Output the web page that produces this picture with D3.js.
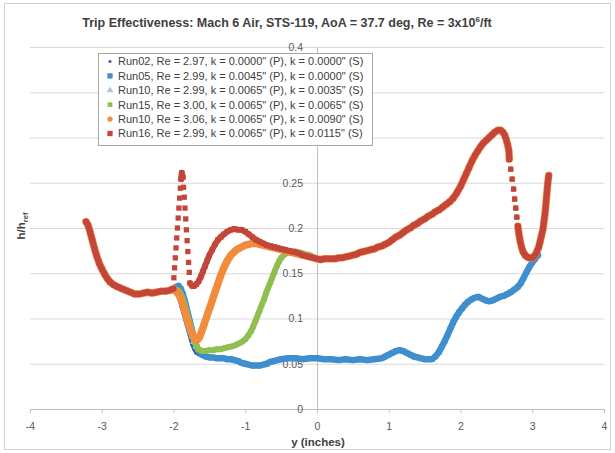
<!DOCTYPE html>
<html>
<head>
<meta charset="utf-8">
<script src="https://cdn.jsdelivr.net/npm/d3@7"></script>
<style>
  body { margin: 0; background: #fff; }
  svg { display: block; font-family: "Liberation Sans", Arial, sans-serif; }
</style>
</head>
<body>
<svg id="chart" width="615" height="453"></svg>
<script>
// Tick values and labels
var xTicks = [-4, -3, -2, -1, 0, 1, 2, 3, 4];
var xTickLabels = ['-4', '-3', '-2', '-1', '0', '1', '2', '3', '4'];
var yTicks = [0, 0.05, 0.1, 0.15, 0.2, 0.25, 0.3, 0.35, 0.4];
var yTickLabels = ['0', '0.05', '0.1', '0.15', '0.2', '0.25', '0.3', '0.35', '0.4'];

// Pieces of the curves, [y (inches), h/href]
var leftCommon = [[-3.22,0.207],[-3.19,0.203],[-3.16,0.195],[-3.13,0.186],[-3.10,0.177],[-3.07,0.169],[-3.04,0.162],
  [-3.0,0.155],[-2.96,0.149],[-2.92,0.144],[-2.88,0.140],[-2.83,0.137],[-2.78,0.135],[-2.72,0.133],[-2.66,0.131],
  [-2.6,0.129],[-2.54,0.127],[-2.48,0.127],[-2.42,0.128],[-2.36,0.129],[-2.3,0.128],[-2.24,0.129],[-2.18,0.130],
  [-2.12,0.130],[-2.06,0.131],[-2.0,0.133]];
var run02Dip = [[-1.95,0.128],[-1.92,0.12],[-1.895,0.113],[-1.87,0.106],[-1.845,0.099],[-1.82,0.092],[-1.795,0.085],
  [-1.77,0.078],[-1.745,0.071],[-1.72,0.066],[-1.69,0.062],[-1.65,0.06],[-1.6,0.058],[-1.55,0.057],[-1.5,0.057]];
var run05Dip = [[-1.96,0.135],[-1.93,0.136],[-1.9,0.133],[-1.87,0.127],[-1.845,0.12],[-1.82,0.112],[-1.795,0.104],
  [-1.77,0.096],[-1.745,0.088],[-1.72,0.08],[-1.695,0.073],[-1.67,0.067],[-1.64,0.063],[-1.6,0.06],[-1.55,0.058],[-1.5,0.057]];
var run10aDip = [[-1.93,0.13],[-1.9,0.124],[-1.875,0.117],[-1.85,0.109],[-1.825,0.101],[-1.8,0.093],[-1.775,0.086],
  [-1.75,0.08],[-1.72,0.074],[-1.69,0.069],[-1.65,0.066],[-1.6,0.064],[-1.55,0.064],[-1.5,0.065]];
var run15Dip = [[-1.96,0.132],[-1.92,0.13],[-1.89,0.126],[-1.86,0.119],[-1.83,0.111],[-1.8,0.102],[-1.77,0.093],
  [-1.74,0.084],[-1.71,0.076],[-1.68,0.07],[-1.65,0.066],[-1.6,0.064],[-1.55,0.064],[-1.5,0.065]];
var run10bDip = [[-1.97,0.13],[-1.94,0.128],[-1.91,0.124],[-1.88,0.118],[-1.85,0.11],[-1.82,0.102],[-1.79,0.094],
  [-1.76,0.087],[-1.73,0.081],[-1.7,0.077],[-1.67,0.076],[-1.64,0.079],[-1.61,0.085],[-1.58,0.092],[-1.55,0.099],
  [-1.52,0.106],[-1.49,0.113],[-1.46,0.12],[-1.43,0.127],[-1.4,0.134],[-1.37,0.141],[-1.34,0.148],[-1.31,0.154],
  [-1.28,0.159],[-1.25,0.164],[-1.2,0.17],[-1.15,0.174],[-1.1,0.177],[-1.05,0.179],[-1.0,0.181],[-0.95,0.182],
  [-0.9,0.183],[-0.85,0.183],[-0.8,0.182],[-0.75,0.181],[-0.7,0.18],[-0.6,0.178],[-0.5,0.176],[-0.4,0.174],
  [-0.3,0.172],[-0.2,0.17],[-0.1,0.168]];
var run16Dip = [[-1.995,0.145],[-1.985,0.156],[-1.975,0.167],[-1.965,0.178],[-1.955,0.189],[-1.945,0.2],[-1.935,0.211],
  [-1.925,0.222],[-1.915,0.233],[-1.905,0.244],[-1.895,0.254],[-1.885,0.261],[-1.87,0.256],[-1.86,0.245],[-1.85,0.234],
  [-1.84,0.222],[-1.83,0.21],[-1.82,0.198],[-1.81,0.186],[-1.8,0.174],[-1.79,0.162],[-1.78,0.151],
  [-1.77,0.139],[-1.74,0.136],[-1.71,0.136],[-1.68,0.138],[-1.65,0.141],[-1.62,0.146],[-1.59,0.152],[-1.56,0.158],
  [-1.53,0.164],[-1.5,0.17],[-1.46,0.176],[-1.42,0.182],[-1.38,0.187],[-1.34,0.19],[-1.3,0.193],[-1.25,0.196],
  [-1.2,0.198],[-1.15,0.199],[-1.1,0.198],[-1.05,0.198],[-1.0,0.196],[-0.95,0.193],[-0.9,0.19],[-0.85,0.187],
  [-0.8,0.185],[-0.75,0.183],[-0.7,0.181],[-0.65,0.18],[-0.6,0.179],[-0.55,0.178],[-0.5,0.177],[-0.45,0.176],
  [-0.4,0.175],[-0.35,0.174],[-0.3,0.173],[-0.25,0.172],[-0.2,0.17],[-0.15,0.169],[-0.1,0.168],[-0.05,0.167]];
var midPath = [[-1.45,0.065],[-1.4,0.066],[-1.35,0.066],[-1.3,0.067],[-1.25,0.068],[-1.2,0.069],[-1.15,0.07],
  [-1.1,0.072],[-1.05,0.074],[-1.0,0.077],[-0.96,0.081],[-0.92,0.086],[-0.89,0.091],[-0.86,0.097],[-0.83,0.103],
  [-0.8,0.109],[-0.77,0.115],[-0.74,0.121],[-0.71,0.128],[-0.68,0.134],[-0.65,0.14],[-0.62,0.146],[-0.59,0.152],
  [-0.56,0.158],[-0.53,0.163],[-0.5,0.167],[-0.45,0.171],[-0.4,0.173],[-0.35,0.174],[-0.3,0.174],[-0.2,0.172],
  [-0.1,0.17]];
var lowerPath = [[-1.45,0.057],[-1.4,0.056],[-1.35,0.056],[-1.3,0.056],[-1.25,0.055],[-1.2,0.055],[-1.15,0.054],
  [-1.1,0.053],[-1.05,0.051],[-1.0,0.05],[-0.95,0.049],[-0.9,0.048],[-0.85,0.048],[-0.8,0.048],[-0.75,0.049],
  [-0.7,0.05],[-0.65,0.052],[-0.6,0.053],[-0.55,0.054],[-0.5,0.055],[-0.4,0.056],[-0.3,0.056],[-0.2,0.055],
  [-0.1,0.056],[0,0.056],[0.1,0.055],[0.2,0.055],[0.3,0.054],[0.4,0.055],[0.5,0.054],[0.6,0.055],[0.7,0.054],
  [0.8,0.055],[0.9,0.056],[0.95,0.058],[1.0,0.06],[1.05,0.062],[1.1,0.064],[1.15,0.065],[1.2,0.064],[1.25,0.062],
  [1.3,0.06],[1.35,0.058],[1.4,0.057],[1.5,0.055],[1.6,0.055],[1.65,0.058],[1.7,0.063],[1.74,0.069],[1.78,0.075],
  [1.82,0.082],[1.86,0.089],[1.9,0.096],[1.94,0.102],[1.98,0.107],[2.02,0.111],[2.06,0.115],[2.1,0.118],
  [2.15,0.121],[2.2,0.123],[2.25,0.124],[2.3,0.122],[2.35,0.12],[2.4,0.119],[2.45,0.12],[2.5,0.122],[2.55,0.124],
  [2.6,0.125],[2.65,0.127],[2.7,0.129],[2.75,0.132],[2.8,0.135],[2.84,0.139],[2.88,0.145],[2.92,0.151],
  [2.96,0.157],[3.0,0.162],[3.04,0.166],[3.08,0.17]];
var upperRight = [[0,0.166],[0.05,0.165],[0.1,0.166],[0.15,0.166],[0.2,0.166],[0.25,0.166],[0.3,0.167],[0.35,0.167],
  [0.4,0.168],[0.45,0.169],[0.5,0.17],[0.55,0.171],[0.6,0.173],[0.65,0.174],[0.7,0.175],[0.75,0.176],[0.8,0.177],
  [0.85,0.179],[0.9,0.18],[0.95,0.182],[1.0,0.184],[1.05,0.187],[1.1,0.19],[1.15,0.192],[1.2,0.195],[1.25,0.198],
  [1.3,0.2],[1.35,0.203],[1.4,0.205],[1.45,0.208],[1.5,0.21],[1.55,0.213],[1.6,0.215],[1.65,0.218],[1.7,0.22],
  [1.75,0.223],[1.8,0.226],[1.85,0.229],[1.9,0.233],[1.95,0.239],[2.0,0.246],[2.04,0.253],[2.08,0.26],[2.12,0.267],
  [2.16,0.274],[2.2,0.28],[2.24,0.285],[2.28,0.29],[2.32,0.294],[2.36,0.297],[2.4,0.3],[2.44,0.303],[2.48,0.306],
  [2.52,0.308],[2.56,0.308],[2.59,0.306],[2.62,0.302],[2.64,0.297],[2.66,0.291],[2.675,0.285],
  [2.68,0.276],[2.7,0.265],[2.72,0.254],[2.74,0.243],[2.755,0.232],[2.77,0.222],[2.785,0.212],[2.8,0.202],
  [2.815,0.193],[2.83,0.186],[2.85,0.179],[2.87,0.174],[2.9,0.17],[2.93,0.168],[2.96,0.167],[3.0,0.167],
  [3.03,0.169],[3.06,0.173],[3.09,0.179],[3.11,0.185],[3.13,0.192],[3.15,0.199],[3.165,0.208],[3.18,0.217],
  [3.19,0.226],[3.2,0.235],[3.21,0.244],[3.22,0.252],[3.23,0.258]];

// Series, in drawing order (last one on top)
var seriesNames = [
  'Run02, Re = 2.97, k = 0.0000" (P), k = 0.0000" (S)',
  'Run05, Re = 2.99, k = 0.0045" (P), k = 0.0000" (S)',
  'Run10, Re = 2.99, k = 0.0065" (P), k = 0.0035" (S)',
  'Run15, Re = 3.00, k = 0.0065" (P), k = 0.0065" (S)',
  'Run10, Re = 3.06, k = 0.0065" (P), k = 0.0090" (S)',
  'Run16, Re = 2.99, k = 0.0065" (P), k = 0.0115" (S)'
];
var seriesValues = [
  leftCommon.concat(run02Dip, lowerPath),
  leftCommon.concat(run05Dip, lowerPath),
  leftCommon.concat(run10aDip, midPath, upperRight),
  leftCommon.concat(run15Dip, midPath, upperRight),
  leftCommon.concat(run10bDip, upperRight),
  leftCommon.concat(run16Dip, upperRight)
];
var seriesColors = ['#3b5f96', '#3f8fcf', '#a8c6e3', '#8fbf4f', '#f08c3c', '#c4463a'];
var seriesSymbols = [d3.symbolCircle, d3.symbolSquare, d3.symbolTriangle, d3.symbolSquare, d3.symbolCircle, d3.symbolSquare];
var symbolSizes = [8, 28, 20, 22, 22, 28];
var bandWidths = [3, 6.5, 4, 6, 7.5, 6];

var svg = d3.select('#chart');
var x = d3.scaleLinear().domain([-4, 4]).range([30, 604]);
var y = d3.scaleLinear().domain([0, 0.4]).range([409, 47]);

// legend box position (also used to hide the labels it covers)
var legendBox = { x: 98.5, y: 53.5, w: 274, h: 92 };

// chart border
svg.append('rect').attr('x', 4.5).attr('y', 3.5).attr('width', 606).attr('height', 446)
    .attr('fill', '#fff').attr('stroke', '#d0d0d0');

// Horizontal gridlines
var grid = svg.append('g').attr('transform', 'translate(30,0)')
    .call(d3.axisRight(y).tickValues(yTicks.slice(1)).tickSize(574).tickFormat(''));
grid.select('.domain').remove();
grid.selectAll('line').attr('stroke', '#d9d9d9');

// x axis at h = 0
var xAxis = svg.append('g').attr('transform', 'translate(0,' + y(0) + ')')
    .call(d3.axisBottom(x).tickValues(xTicks).tickSize(4).tickPadding(10)
        .tickFormat(function (d, i) { return xTickLabels[i]; }));
xAxis.select('.domain').attr('stroke', '#bfbfbf');
xAxis.selectAll('line').attr('stroke', '#bfbfbf');
xAxis.selectAll('text').attr('fill', '#595959').style('font-size', '10.5px');

// y axis crosses at y = 0; labels under the legend stay hidden, as in the original
var yAxis = svg.append('g').attr('transform', 'translate(' + x(0) + ',0)')
    .call(d3.axisLeft(y).tickValues(yTicks).tickSize(0).tickPadding(14)
        .tickFormat(function (d, i) { return yTickLabels[i]; }));
yAxis.select('.domain').attr('stroke', '#bfbfbf');
yAxis.selectAll('text').attr('fill', '#595959').style('font-size', '10.5px');
yAxis.selectAll('.tick').filter(function (d) {
    return y(d) > legendBox.y && y(d) < legendBox.y + legendBox.h;
}).remove();

// Split a series where neighbouring points are far apart, so sparse
// stretches show up as separate dots like in the original
function segments(points) {
    var out = [], cur = [];
    points.forEach(function (p, i) {
        if (i > 0) {
            var q = points[i - 1];
            var dist = Math.hypot(x(p[0]) - x(q[0]), y(p[1]) - y(q[1]));
            if (dist > 8.5) { out.push(cur); cur = []; }
        }
        cur.push(p);
    });
    out.push(cur);
    return out.filter(function (s) { return s.length > 1; });
}

var line = d3.line().x(function (d) { return x(d[0]); }).y(function (d) { return y(d[1]); });
var plot = svg.append('g');
seriesValues.forEach(function (values, i) {
    var g = plot.append('g');
    g.selectAll('path.band').data(segments(values)).enter().append('path')
        .attr('class', 'band')
        .attr('d', line)
        .attr('fill', 'none')
        .attr('stroke', seriesColors[i])
        .attr('stroke-width', bandWidths[i])
        .attr('stroke-linejoin', 'round')
        .attr('stroke-linecap', 'round');
    g.selectAll('path.mark').data(values).enter().append('path')
        .attr('class', 'mark')
        .attr('transform', function (d) { return 'translate(' + x(d[0]) + ',' + y(d[1]) + ')'; })
        .attr('d', d3.symbol().type(seriesSymbols[i]).size(symbolSizes[i]))
        .attr('fill', seriesColors[i]);
});

// Title
var title = svg.append('text').attr('x', 287).attr('y', 27).attr('text-anchor', 'middle')
    .style('font-size', '12.5px').style('font-weight', 'bold').attr('fill', '#404040');
title.append('tspan').text('Trip Effectiveness: Mach 6 Air, STS-119, AoA = 37.7 deg, Re = 3x10');
title.append('tspan').attr('dy', -5).style('font-size', '8px').text('6');
title.append('tspan').attr('dy', 5).text('/ft');

// Axis titles
svg.append('text').attr('x', 318).attr('y', 446).attr('text-anchor', 'middle')
    .style('font-size', '11.5px').style('font-weight', 'bold').attr('fill', '#404040')
    .text('y (inches)');
var yLabel = svg.append('text').attr('transform', 'translate(25,226) rotate(-90)').attr('text-anchor', 'middle')
    .style('font-size', '11.5px').style('font-weight', 'bold').attr('fill', '#404040');
yLabel.append('tspan').text('h/h');
yLabel.append('tspan').attr('dy', 3).style('font-size', '7.5px').text('ref');

// Legend
var legend = svg.append('g');
legend.append('rect').attr('x', legendBox.x).attr('y', legendBox.y)
    .attr('width', legendBox.w).attr('height', legendBox.h)
    .attr('fill', '#fff').attr('stroke', '#a6a6a6');
var rows = legend.selectAll('g.row').data(seriesNames).enter().append('g')
    .attr('transform', function (d, i) { return 'translate(0,' + (61.5 + i * 14.4) + ')'; });
rows.append('path')
    .attr('transform', 'translate(110,0)')
    .attr('d', function (d, i) { return d3.symbol().type(seriesSymbols[i]).size(symbolSizes[i])(); })
    .attr('fill', function (d, i) { return seriesColors[i]; });
rows.append('text').attr('x', 118).attr('dy', '0.35em')
    .style('font-size', '11px').attr('fill', '#404040')
    .text(function (d) { return d; });
</script>
</body>
</html>
